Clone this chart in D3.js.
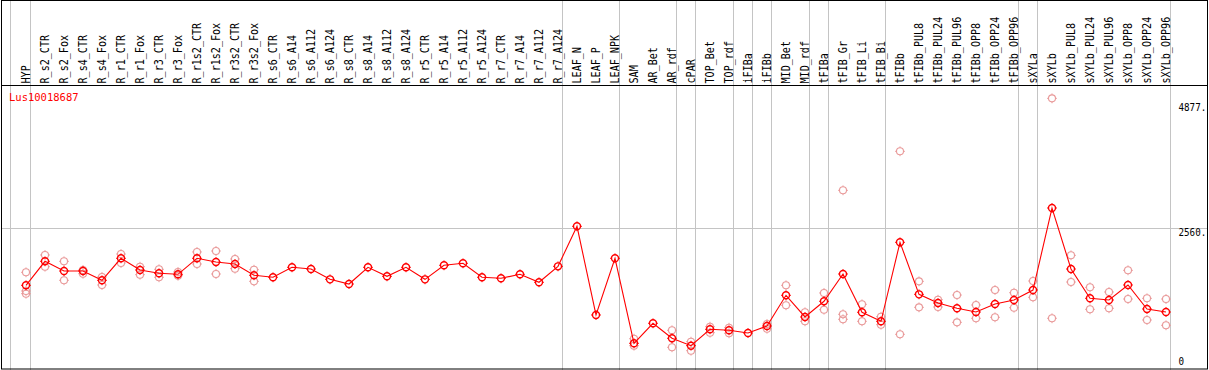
<!DOCTYPE html>
<html>
<head>
<meta charset="utf-8">
<script src="https://cdn.jsdelivr.net/npm/d3@7"></script>
<style>
html,body{margin:0;padding:0;background:#fff;}
svg{display:block;}
</style>
</head>
<body>
<svg id="chart" width="1209" height="370"></svg>
<script>
const geneName = "Lus10018687";
const categories = ["HYP","R_s2_CTR","R_s2_Fox","R_s4_CTR","R_s4_Fox","R_r1_CTR","R_r1_Fox","R_r3_CTR","R_r3_Fox","R_r1s2_CTR","R_r1s2_Fox","R_r3s2_CTR","R_r3s2_Fox","R_s6_CTR","R_s6_A14","R_s6_A112","R_s6_A124","R_s8_CTR","R_s8_A14","R_s8_A112","R_s8_A124","R_r5_CTR","R_r5_A14","R_r5_A112","R_r5_A124","R_r7_CTR","R_r7_A14","R_r7_A112","R_r7_A124","LEAF_N","LEAF_P","LEAF_NPK","SAM","AR_Bet","AR_rdf","cPAR","TOP_Bet","TOP_rdf","iFIBa","iFIBb","MID_Bet","MID_rdf","tFIBa","tFIB_Gr","tFIB_Li","tFIB_Bi","tFIBb","tFIBb_PUL8","tFIBb_PUL24","tFIBb_PUL96","tFIBb_OPP8","tFIBb_OPP24","tFIBb_OPP96","sXYLa","sXYLb","sXYLb_PUL8","sXYLb_PUL24","sXYLb_PUL96","sXYLb_OPP8","sXYLb_OPP24","sXYLb_OPP96"];
const means = [1503,1948,1768,1768,1596,2004,1787,1726,1707,2004,1935,1898,1689,1652,1837,1805,1614,1527,1837,1670,1837,1614,1874,1911,1652,1633,1707,1559,1855,2597,953,2004,428,799,521,384,688,669,619,749,1318,916,1207,1713,1003,836,2300,1336,1175,1077,1008,1157,1231,1416,2936,1805,1262,1231,1509,1064,1008];
const replicates = [[1744,1398,1348],[2065,1848],[1948,1596],[1787,1718],[1657,1509],[2083,1917],[1848,1700],[1800,1652],[1750,1681],[2121,1898],[2139,1713],[1991,1811],[1792,1577],[],[],[],[],[],[],[],[],[],[],[],[],[],[],[],[],[],[],[],[513,384],[],[669,354],[458,291],[736,625],[717,614],[],[786,699],[1503,1133],[1003,836],[1361,1051],[3264,966,873],[1151,836],[921,773],[3987,595],[1577,1095],[1236,1101],[1323,817],[1138,892],[1416,910],[1366,1088],[1583,1281],[4969,892],[2059,1564],[1466,1058],[1379,1077],[1781,1249],[1262,860],[1249,762]];
const groupEnds = [0,28,31,34,35,37,38,39,41,42,45,52,53,60];
const axisTicks = [0,2560,4877];
const gridTicks = [2560];
const tickLabels = ["0","2560.","4877."];

const svg = d3.select("#chart");
const W = 1209, H = 370;
const headerBottom = 85;
const x = d3.scaleLinear().domain([0, categories.length - 1]).range([26, 1166]);
const y = d3.scaleLinear().domain([0, 4877]).range([366.4, 103.3]);
const mono = "'DejaVu Sans Mono', 'Liberation Mono', monospace";
const grey = "#c4c4c4";
const pink = "#e99a9a";

// grid lines
svg.append("line").attr("x1",10.5).attr("x2",10.5).attr("y1",0).attr("y2",H).attr("stroke",grey).attr("stroke-width",1);
svg.selectAll("line.sep").data(groupEnds).join("line").attr("class","sep")
  .attr("x1",d=>Math.round(x(d)+4)+0.5).attr("x2",d=>Math.round(x(d)+4)+0.5)
  .attr("y1",0).attr("y2",H).attr("stroke",grey).attr("stroke-width",1);
svg.selectAll("line.grid").data(gridTicks).join("line").attr("class","grid")
  .attr("x1",2).attr("x2",1207).attr("y1",d=>Math.round(y(d))+0.5).attr("y2",d=>Math.round(y(d))+0.5)
  .attr("stroke",grey).attr("stroke-width",1);

// frame
svg.append("rect").attr("x",1.5).attr("y",0.5).attr("width",1206).attr("height",368.5)
  .attr("fill","none").attr("stroke","#000").attr("stroke-width",1);
svg.append("line").attr("x1",1).attr("x2",1208).attr("y1",headerBottom+0.5).attr("y2",headerBottom+0.5)
  .attr("stroke","#000").attr("stroke-width",1);

// header labels
svg.selectAll("text.cat").data(categories).join("text").attr("class","cat")
  .attr("transform",(d,i)=>`translate(${x(i)+4},83.5) rotate(-90) scale(0.84,1)`)
  .attr("font-family",mono).attr("font-size","12px").attr("fill","#000")
  .text(d=>d);

// gene name
svg.append("text").attr("x",9).attr("y",101).attr("font-family",mono).attr("font-size","10.5px")
  .attr("fill","#ff0000").text(geneName);

// axis labels
svg.selectAll("text.tick").data(axisTicks).join("text").attr("class","tick")
  .attr("transform",d=>`translate(1178.5,${Math.min(y(d)+7.8,365)}) scale(0.88,1)`)
  .attr("font-family",mono).attr("font-size","10.5px").attr("fill","#000")
  .text((d,i)=>tickLabels[i]);

function marker(g, cx, cy, color, sw){
  const r = 3.5;
  g.append("circle").attr("cx",cx).attr("cy",cy).attr("r",r).attr("fill","none").attr("stroke",color).attr("stroke-width",sw);
  const t = 1.4;
  [[0,-1],[0,1],[-1,0],[1,0]].forEach(([dx,dy])=>{
    g.append("line").attr("x1",cx+dx*r).attr("y1",cy+dy*r).attr("x2",cx+dx*(r+t)).attr("y2",cy+dy*(r+t))
      .attr("stroke",color).attr("stroke-width",1);
  });
}

// replicates
const repG = svg.append("g");
replicates.forEach((arr,i)=>{
  arr.forEach(v=>marker(repG, x(i), y(v), pink, 1.1));
});

// line
const line = d3.line().x((d,i)=>x(i)).y(d=>y(d));
svg.append("path").datum(means).attr("d",line).attr("fill","none").attr("stroke","#ff0000").attr("stroke-width",1.1);

// means
const meanG = svg.append("g");
means.forEach((v,i)=>marker(meanG, x(i), y(v), "#ff0000", 1.4));
</script>
</body>
</html>
